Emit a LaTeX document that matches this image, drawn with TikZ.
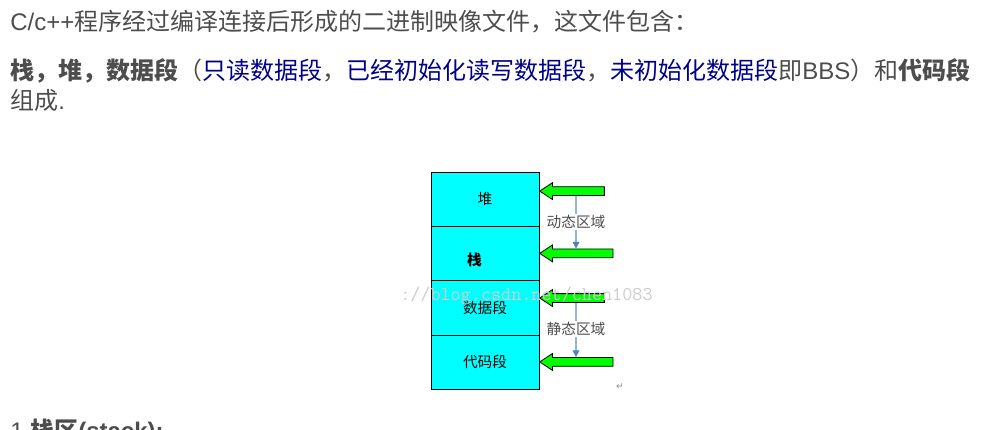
\documentclass[tikz,border=0pt]{standalone}
\usepackage{fontspec}
\setmainfont{Liberation Sans}
\newfontfamily\cjk{Noto Sans CJK SC}
\newfontfamily\symbolFont{DejaVu Sans}
\usetikzlibrary{positioning,shapes.arrows,arrows.meta}
\definecolor{textGray}{RGB}{77,77,77}
\definecolor{noteBlue}{RGB}{0,0,136}
\definecolor{segmentCyan}{RGB}{0,255,255}
\definecolor{arrowGreen}{RGB}{0,255,0}
\definecolor{linkBlue}{RGB}{149,179,215}
\definecolor{tipBlue}{RGB}{79,129,189}
\tikzstyle{pageText} = [anchor=base west, inner sep=0, text=textGray, font=\cjk\fontsize{18pt}{22pt}\selectfont]
\tikzstyle{segmentStyle} = [draw=black, fill=segmentCyan, minimum width=81pt, minimum height=40.7pt, inner sep=0, outer sep=0, font=\cjk\fontsize{11pt}{13pt}\selectfont]
\tikzstyle{greenArrowStyle} = [single arrow, shape border rotate=180, draw=black, fill=arrowGreen, line width=.6pt, inner sep=0, inner ysep=3pt, single arrow head extend=3pt, single arrow tip angle=67, anchor=tip]
\tikzstyle{regionText} = [inner sep=1pt, text=textGray, font=\cjk\fontsize{11pt}{13pt}\selectfont]
\tikzstyle{linkLine} = [draw=linkBlue, line width=.8pt]
\tikzstyle{linkArrow} = [linkLine, -{Triangle[length=5pt, width=5pt, fill=tipBlue, color=tipBlue]}]
\newcommand{\blueNote}[1]{{\color{noteBlue}#1}}

\begin{document}
\begin{tikzpicture}[x=0.75pt, y=-0.75pt]
  \useasboundingbox (0,0) rectangle (993,429);

  \node[pageText] (introLine) at (10,30) {{\rmfamily C/c++}程序经过编译连接后形成的二进制映像文件，这文件包含：};
  \node[pageText] (partsLine) at (10,79) {{\bfseries 栈，堆，数据段}（\blueNote{只读数据段}，\blueNote{已经初始化读写数据段}，\blueNote{未初始化数据段}即{\rmfamily BBS}）和{\bfseries 代码段}};
  \node[pageText] (partsTail) at (10,109) {组成{\rmfamily .}};
  \node[pageText] (sectionTitle) at (10,439) {{\rmfamily 1 }{\bfseries 栈区{\rmfamily (stack):}}};

  \node[segmentStyle] (heapCell) at (485,199.1) {堆};
  \node[segmentStyle, below=0pt of heapCell] (stackCell) {\raisebox{-9pt}[0pt][0pt]{\bfseries 栈}\hspace*{16pt}};
  \node[segmentStyle, below=0pt of stackCell] (dataCell) {数据段};
  \node[segmentStyle, below=0pt of dataCell] (codeCell) {代码段};

  \node[greenArrowStyle, minimum height=48.5pt] (heapArrow) at ([yshift=6pt]heapCell.east) {};
  \node[greenArrowStyle, minimum height=55pt] (stackArrow) at (stackCell.east) {};
  \node[greenArrowStyle, minimum height=48.5pt] (dataArrow) at ([yshift=7.2pt]dataCell.east) {};
  \node[greenArrowStyle, minimum height=55pt] (codeArrow) at (codeCell.east) {};

  \node[regionText] (dynamicLabel) at (576,222) {动态区域};
  \node[regionText] (staticLabel) at (576,329) {静态区域};
  \draw[linkLine] (dynamicLabel |- heapArrow.south) -- (dynamicLabel.north);
  \draw[linkArrow] (dynamicLabel.south) -- (dynamicLabel |- stackArrow.north);
  \draw[linkLine] (staticLabel |- dataArrow.south) -- (staticLabel.north);
  \draw[linkArrow] (staticLabel.south) -- (staticLabel |- codeArrow.north);

  \node[text=black!45, inner sep=0, font=\symbolFont\fontsize{7pt}{8pt}\selectfont] (returnMark) at (620,387) {↵};
  \node[anchor=west, inner sep=0, text=black!20, font=\ttfamily\fontsize{14.7pt}{16pt}\selectfont] (watermark) at (400,296) {://blog.csdn.net/chen1083};
\end{tikzpicture}
\end{document}
